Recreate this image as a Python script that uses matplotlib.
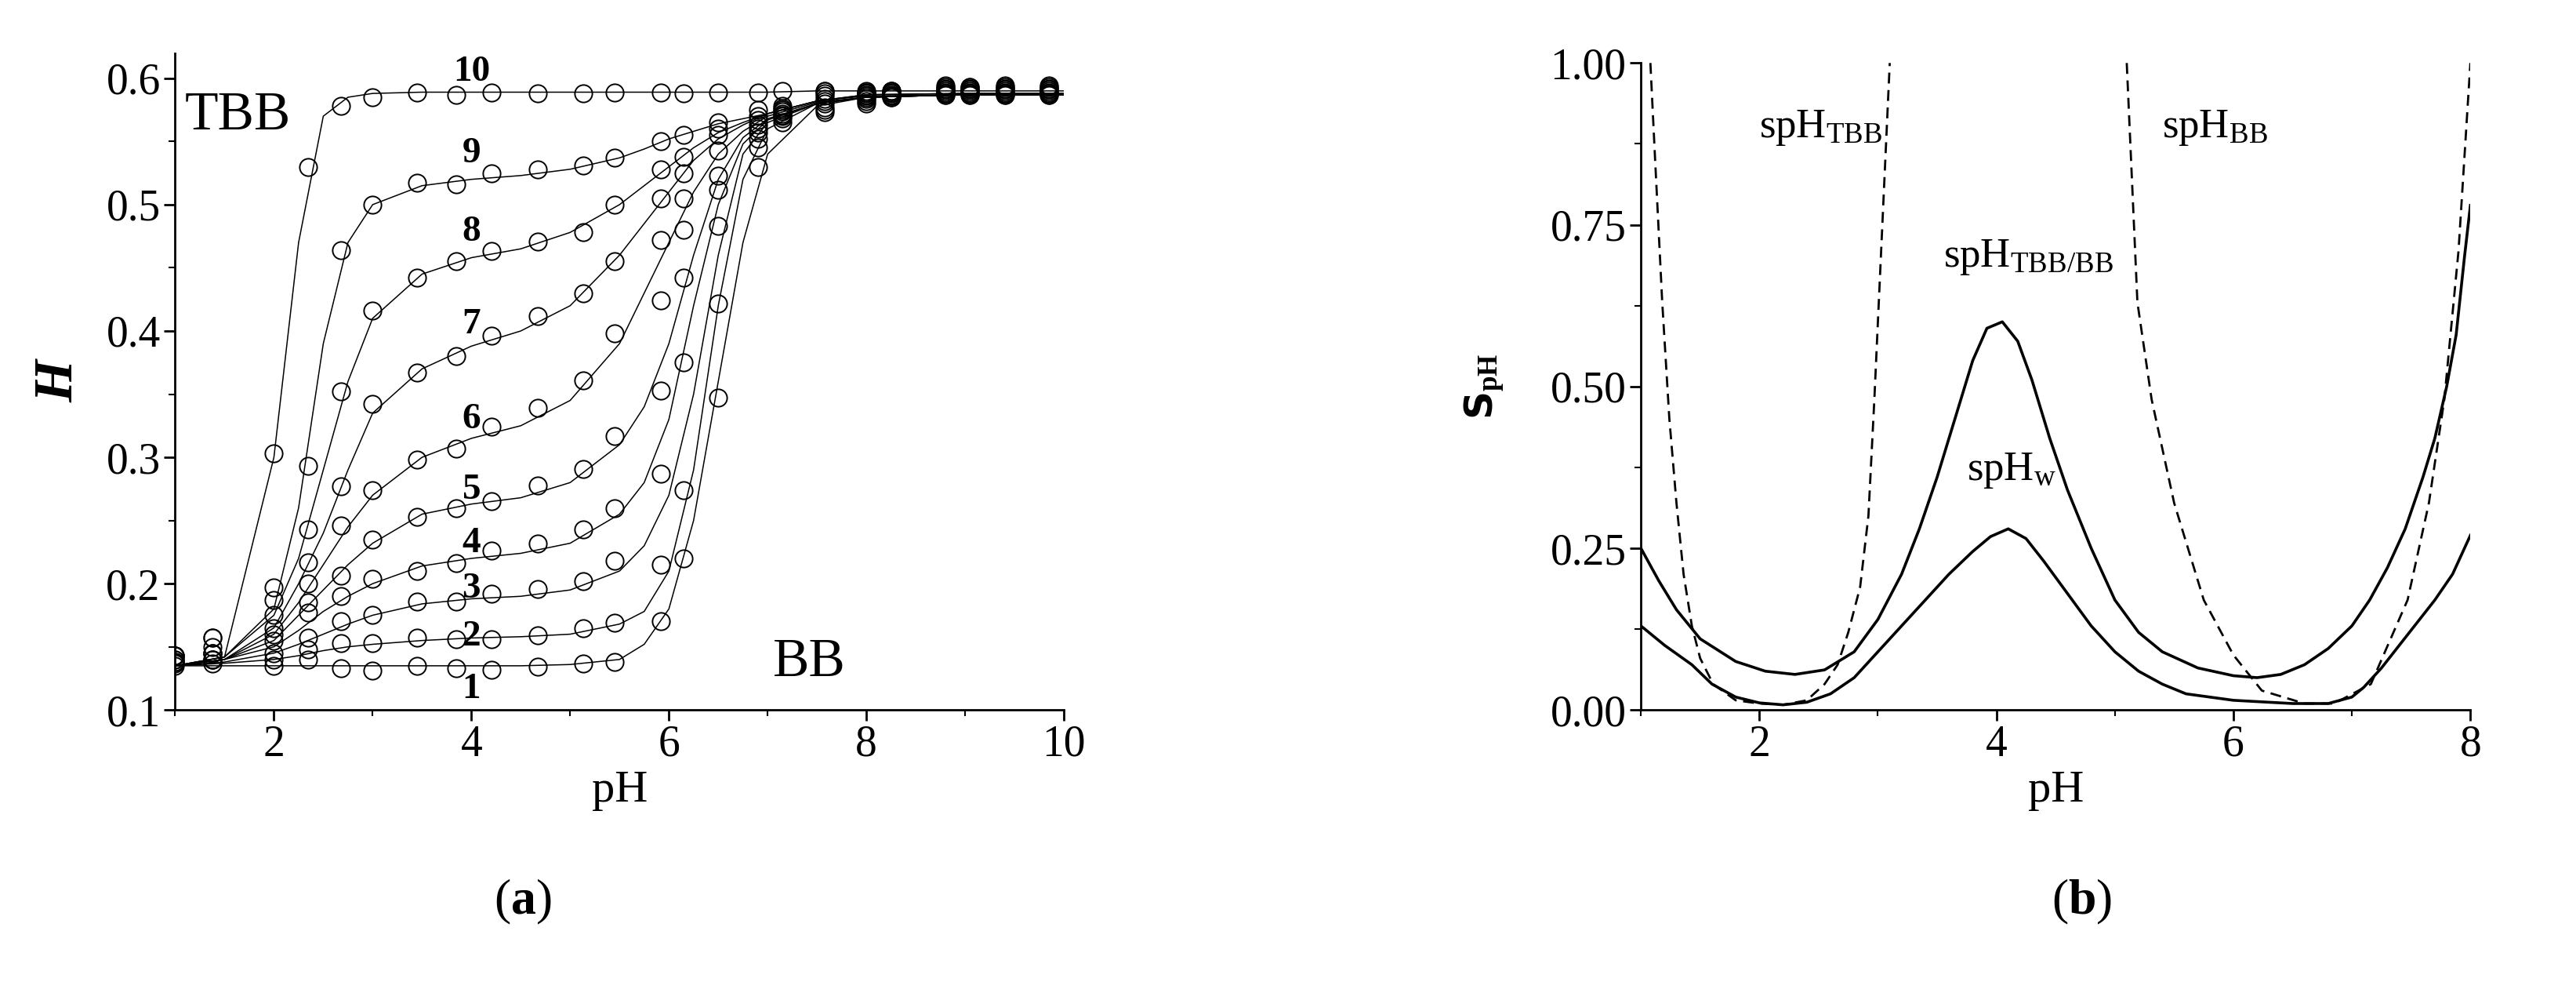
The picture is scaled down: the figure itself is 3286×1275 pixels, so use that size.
import numpy as np
import matplotlib
matplotlib.use("Agg")
import matplotlib.pyplot as plt
from matplotlib.ticker import MultipleLocator, FormatStrFormatter

plt.rcParams['font.family'] = ['Liberation Serif', 'DejaVu Serif']
plt.rcParams['mathtext.fontset'] = 'custom'
plt.rcParams['mathtext.rm'] = 'Liberation Serif'
plt.rcParams['mathtext.bf'] = 'Liberation Serif:bold'
plt.rcParams['mathtext.it'] = 'Liberation Serif:italic'

# === PANEL (a) DATA ===
fit_ph = [1.0, 1.5, 2.0, 2.25, 2.5, 2.75, 3.0, 3.5, 4.0, 4.5, 5.0, 5.5, 5.75,
          6.0, 6.25, 6.5, 6.75, 7.0, 7.5, 8.0, 9.0, 10.0]
fit_h = {
    1: [0.135, 0.135, 0.135, 0.135, 0.135, 0.135, 0.135, 0.135, 0.135, 0.135, 0.136, 0.14, 0.152,
        0.18, 0.25, 0.36, 0.47, 0.54, 0.578, 0.585, 0.587, 0.587],
    2: [0.135, 0.137, 0.14, 0.143, 0.147, 0.15, 0.152, 0.155, 0.157, 0.158, 0.16, 0.168, 0.178,
        0.21, 0.29, 0.42, 0.52, 0.56, 0.58, 0.585, 0.587, 0.587],
    3: [0.135, 0.138, 0.145, 0.152, 0.16, 0.168, 0.175, 0.184, 0.188, 0.19, 0.195, 0.21, 0.23,
        0.27, 0.35, 0.46, 0.54, 0.565, 0.58, 0.585, 0.587, 0.587],
    4: [0.135, 0.14, 0.15, 0.163, 0.178, 0.19, 0.2, 0.214, 0.22, 0.224, 0.232, 0.255, 0.28,
        0.33, 0.42, 0.5, 0.548, 0.567, 0.58, 0.585, 0.587, 0.587],
    5: [0.135, 0.14, 0.155, 0.175, 0.195, 0.215, 0.232, 0.255, 0.263, 0.268, 0.28, 0.31, 0.34,
        0.39, 0.46, 0.52, 0.553, 0.568, 0.58, 0.585, 0.587, 0.587],
    6: [0.135, 0.14, 0.16, 0.185, 0.215, 0.245, 0.27, 0.3, 0.315, 0.325, 0.345, 0.39, 0.43,
        0.47, 0.51, 0.54, 0.558, 0.57, 0.581, 0.585, 0.587, 0.587],
    7: [0.135, 0.14, 0.165, 0.2, 0.24, 0.29, 0.335, 0.37, 0.388, 0.4, 0.42, 0.46, 0.485,
        0.51, 0.535, 0.552, 0.563, 0.572, 0.582, 0.586, 0.587, 0.587],
    8: [0.135, 0.142, 0.175, 0.22, 0.29, 0.36, 0.41, 0.445, 0.458, 0.465, 0.478, 0.5, 0.515,
        0.53, 0.545, 0.557, 0.565, 0.572, 0.582, 0.587, 0.588, 0.588],
    9: [0.135, 0.142, 0.18, 0.26, 0.39, 0.47, 0.5, 0.515, 0.52, 0.523, 0.528, 0.537, 0.544,
        0.552, 0.558, 0.564, 0.568, 0.572, 0.582, 0.587, 0.588, 0.588],
    10: [0.135, 0.142, 0.3, 0.47, 0.57, 0.585, 0.588, 0.589, 0.589, 0.589, 0.589, 0.589, 0.589,
         0.589, 0.589, 0.589, 0.589, 0.589, 0.59, 0.59, 0.59, 0.59],
}

pts_ph = [1.0, 1.38, 2.0, 2.35, 2.68, 3.0, 3.45, 3.85, 4.2, 4.67, 5.13, 5.45, 5.92, 6.15,
          6.5, 6.9, 7.15, 7.58, 8.0, 8.25, 8.8, 9.05, 9.4, 9.85]
pts_h = {
    1: [0.135, 0.137, 0.135, 0.14, 0.133, 0.131, 0.135, 0.133, 0.132, 0.134, 0.137, 0.138, 0.17, 0.22,
        0.347, 0.53, 0.565, 0.573, 0.58, 0.585, 0.587, 0.587, 0.587, 0.587],
    2: [0.137, 0.14, 0.14, 0.148, 0.153, 0.153, 0.157, 0.156, 0.156, 0.159, 0.165, 0.169, 0.215, 0.274,
        0.422, 0.545, 0.568, 0.575, 0.582, 0.585, 0.587, 0.587, 0.587, 0.587],
    3: [0.138, 0.14, 0.145, 0.157, 0.17, 0.175, 0.186, 0.186, 0.192, 0.196, 0.202, 0.218, 0.287, 0.375,
        0.483, 0.552, 0.57, 0.577, 0.584, 0.586, 0.588, 0.588, 0.588, 0.588],
    4: [0.138, 0.14, 0.155, 0.177, 0.19, 0.204, 0.21, 0.216, 0.226, 0.232, 0.243, 0.26, 0.353, 0.442,
        0.512, 0.557, 0.571, 0.58, 0.585, 0.586, 0.588, 0.588, 0.588, 0.588],
    5: [0.14, 0.145, 0.16, 0.185, 0.206, 0.235, 0.253, 0.26, 0.265, 0.278, 0.291, 0.317, 0.424, 0.48,
        0.523, 0.56, 0.572, 0.582, 0.586, 0.587, 0.589, 0.589, 0.589, 0.589],
    6: [0.14, 0.145, 0.165, 0.2, 0.246, 0.274, 0.298, 0.307, 0.324, 0.339, 0.361, 0.398, 0.472, 0.505,
        0.543, 0.563, 0.574, 0.584, 0.587, 0.588, 0.59, 0.59, 0.59, 0.59],
    7: [0.143, 0.145, 0.175, 0.217, 0.277, 0.342, 0.367, 0.38, 0.396, 0.412, 0.43, 0.455, 0.505, 0.525,
        0.555, 0.567, 0.575, 0.586, 0.588, 0.589, 0.591, 0.591, 0.591, 0.591],
    8: [0.143, 0.15, 0.187, 0.243, 0.352, 0.416, 0.442, 0.455, 0.463, 0.471, 0.478, 0.5, 0.528, 0.538,
        0.56, 0.57, 0.576, 0.588, 0.589, 0.59, 0.592, 0.592, 0.592, 0.592],
    9: [0.143, 0.157, 0.197, 0.293, 0.464, 0.5, 0.517, 0.516, 0.525, 0.528, 0.531, 0.537, 0.55, 0.555,
        0.565, 0.575, 0.578, 0.59, 0.59, 0.59, 0.593, 0.593, 0.593, 0.593],
    10: [0.143, 0.157, 0.303, 0.53, 0.578, 0.585, 0.589, 0.587, 0.589, 0.588, 0.588, 0.589, 0.589, 0.588,
         0.589, 0.589, 0.59, 0.59, 0.589, 0.59, 0.594, 0.593, 0.594, 0.594],
}
curve_labels = ['1', '2', '3', '4', '5', '6', '7', '8', '9', '10']
label_h = [0.116, 0.158, 0.196, 0.232, 0.274, 0.33, 0.405, 0.478, 0.54, 0.605]

# === PANEL (b) DATA ===
tbb_x = [1.08, 1.12, 1.18, 1.24, 1.3, 1.36, 1.43, 1.5, 1.61, 1.8, 2.0, 2.2, 2.4, 2.55, 2.66,
         2.75, 2.85, 2.92, 2.97, 3.02, 3.06, 3.1]
tbb_y = [1.0, 0.85, 0.63, 0.45, 0.32, 0.21, 0.13, 0.08, 0.04, 0.015, 0.01, 0.008, 0.015, 0.04,
         0.07, 0.12, 0.19, 0.3, 0.48, 0.68, 0.84, 1.0]
bb_x = [5.1, 5.19, 5.31, 5.5, 5.75, 6.0, 6.24, 6.6, 6.85, 7.16, 7.47, 7.65, 7.78, 7.9, 8.0]
bb_y = [1.0, 0.63, 0.48, 0.32, 0.17, 0.085, 0.03, 0.01, 0.01, 0.04, 0.17, 0.32, 0.48, 0.71, 1.0]
mix_x = [1.0, 1.15, 1.3, 1.5, 1.8, 2.05, 2.3, 2.55, 2.8, 3.0, 3.2, 3.35, 3.5, 3.65, 3.8, 3.92,
         4.05, 4.18, 4.3, 4.45, 4.6, 4.8, 5.0, 5.2, 5.4, 5.7, 6.0, 6.2, 6.4, 6.6, 6.8, 7.0, 7.15,
         7.3, 7.45, 7.6, 7.7, 7.8, 7.88, 7.95, 8.0]
mix_y = [0.25, 0.2, 0.155, 0.11, 0.075, 0.06, 0.055, 0.062, 0.09, 0.14, 0.21, 0.28, 0.36, 0.45,
         0.54, 0.59, 0.6, 0.57, 0.51, 0.42, 0.34, 0.25, 0.17, 0.12, 0.09, 0.065, 0.053, 0.05,
         0.055, 0.07, 0.095, 0.13, 0.17, 0.22, 0.28, 0.36, 0.42, 0.5, 0.58, 0.7, 0.78]
w_x = [1.0, 1.2, 1.43, 1.6, 1.8, 2.0, 2.2, 2.4, 2.6, 2.8, 3.0, 3.2, 3.4, 3.6, 3.8, 3.95, 4.1,
       4.25, 4.4, 4.6, 4.8, 5.0, 5.2, 5.4, 5.6, 6.0, 6.5, 6.8, 7.0, 7.1, 7.25, 7.4, 7.55, 7.7,
       7.85, 8.0]
w_y = [0.13, 0.1, 0.07, 0.04, 0.02, 0.011, 0.008, 0.012, 0.025, 0.05, 0.09, 0.13, 0.17, 0.21,
       0.245, 0.268, 0.28, 0.265, 0.23, 0.18, 0.13, 0.09, 0.06, 0.04, 0.025, 0.015, 0.01, 0.01,
       0.02, 0.035, 0.065, 0.1, 0.135, 0.17, 0.21, 0.27]

TICK_FS = 40
LABEL_FS = 42

fig = plt.figure(figsize=(32.86, 12.75), dpi=100)
ax1 = fig.add_axes([0.068, 0.29, 0.345, 0.657])
ax2 = fig.add_axes([0.637, 0.29, 0.322, 0.647])

for ax in (ax1, ax2):
    for s in ('top', 'right'):
        ax.spines[s].set_visible(False)
    ax.spines['left'].set_linewidth(2)
    ax.spines['bottom'].set_linewidth(2)
    ax.tick_params(which='major', direction='out', length=10, width=2, labelsize=TICK_FS)
    ax.tick_params(which='minor', direction='out', length=6, width=1.5)

# panel a
for k in range(1, 11):
    ax1.plot(fit_ph, fit_h[k], color='black', lw=1.1)
    ax1.plot(pts_ph, pts_h[k], ls='none', marker='o', ms=16, mfc='none', mec='black', mew=1.4)
for lab, y in zip(curve_labels, label_h):
    ax1.text(4.0, y, lab, fontsize=34, fontweight='bold', ha='center', va='center')
ax1.text(1.1, 0.57, 'TBB', fontsize=50, ha='left', va='center')
ax1.text(7.05, 0.137, 'BB', fontsize=50, ha='left', va='center')
ax1.set_xlim(1, 10)
ax1.set_ylim(0.1, 0.62)
ax1.xaxis.set_major_locator(MultipleLocator(2))
ax1.xaxis.set_minor_locator(MultipleLocator(1))
ax1.yaxis.set_major_locator(MultipleLocator(0.1))
ax1.yaxis.set_minor_locator(MultipleLocator(0.05))
ax1.set_xlabel('pH', fontsize=LABEL_FS)
ax1.set_ylabel('H', fontsize=50, fontstyle='italic', fontweight='bold', labelpad=20)

# panel b
ax2.plot(tbb_x, tbb_y, color='black', lw=2, ls=(0, (5, 3)))
ax2.plot(bb_x, bb_y, color='black', lw=2, ls=(0, (5, 3)))
ax2.plot(mix_x, mix_y, color='black', lw=2.6)
ax2.plot(w_x, w_y, color='black', lw=2.6)
ax2.text(2.0, 0.9, r'spH$_{\mathrm{TBB}}$', fontsize=38, ha='left', va='center')
ax2.text(5.4, 0.9, r'spH$_{\mathrm{BB}}$', fontsize=38, ha='left', va='center')
ax2.text(3.55, 0.7, r'spH$_{\mathrm{TBB/BB}}$', fontsize=38, ha='left', va='center')
ax2.text(3.75, 0.37, r'spH$_{\mathrm{w}}$', fontsize=38, ha='left', va='center')
ax2.set_xlim(1, 8)
ax2.set_ylim(0, 1.0)
ax2.xaxis.set_major_locator(MultipleLocator(2))
ax2.xaxis.set_minor_locator(MultipleLocator(1))
ax2.yaxis.set_major_locator(MultipleLocator(0.25))
ax2.yaxis.set_minor_locator(MultipleLocator(0.125))
ax2.yaxis.set_major_formatter(FormatStrFormatter('%.2f'))
ax2.set_xlabel('pH', fontsize=LABEL_FS)
ax2.set_ylabel(r'S$_{\mathbf{pH}}$', fontsize=36, family='DejaVu Sans', fontweight='bold', labelpad=40)

fig.text(0.203, 0.098, r'($\mathbf{a}$)', fontsize=46, ha='center', va='center')
fig.text(0.808, 0.098, r'($\mathbf{b}$)', fontsize=46, ha='center', va='center')

fig.savefig('out.png', dpi=100)
